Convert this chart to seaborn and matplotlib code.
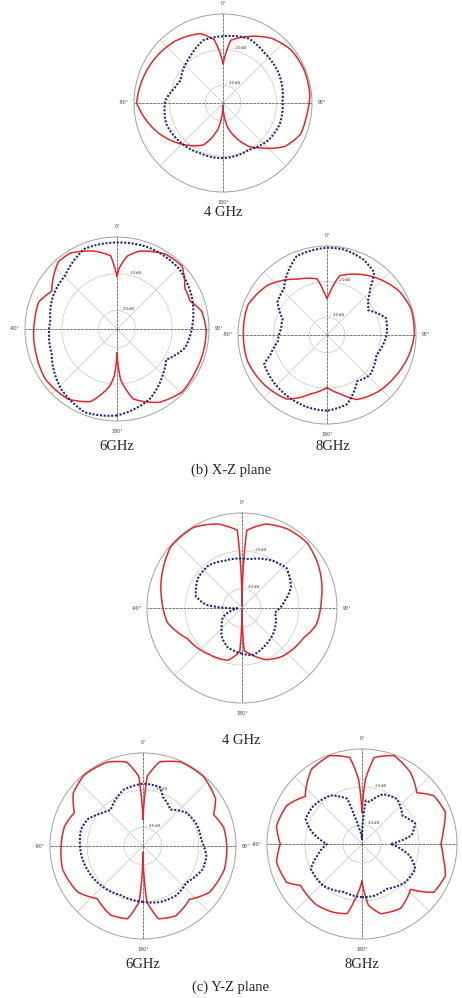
import numpy as np
import pandas as pd
import matplotlib
matplotlib.use('Agg')
import matplotlib.pyplot as plt
import seaborn as sns

# Angles in degrees (0 = top, clockwise), levels in dB (outer ring = 0 dB)
# ---- X-Z plane ----
xz4_red_ang = [-180, -169, -155, -137, -112, -90, -60, -38, -18, -8, -3, 0, 3, 7, 21, 37, 52, 67, 85, 98, 112, 125, 139, 149, 169, 180]
xz4_red_db = [-48.5, -35, -24, -18, -9, -1.5, -4, -6, -9, -14, -22.5, -28, -22.5, -14.5, -10, -4.5, -1.5, -0.8, -1, -2.5, -3, -7.5, -16.5, -21.5, -36, -48.5]
xz4_blue_ang = [-180, -156, -134, -110, -88, -73, -62, -35, -17, 0, 22, 40, 61, 88, 110, 129, 151, 180]
xz4_blue_db = [-19, -19, -17.5, -16, -17.5, -21.5, -23, -18, -13, -12.5, -11, -13.5, -14.5, -16.5, -16, -17, -20, -19]

xz6_red_ang = [-180, -177, -173, -160, -145, -125, -107, -84, -71, -60, -41, -32, -16, -5, -2, 0, 2, 8, 16, 33, 46, 59, 69, 78, 91, 106, 119, 134, 150, 167, 176, 180]
xz6_red_db = [-37, -25, -19, -8, -3.5, -2.5, -4, -5, -5, -9, -1.5, -1.5, -6, -10, -17, -21.5, -17, -10, -6, -1.5, -0.8, -7, -7.5, -3, -1.5, -1.5, -1.5, -0.8, -4, -11, -22.5, -37]
xz6_blue_ang = [-180, -159, -137, -111, -83, -64, -44, -22, 0, 22, 46, 65, 84, 105, 122, 136, 155, 180]
xz6_blue_db = [-3, -1.5, -5.5, -12, -13.5, -11, -9.5, -3, -3, -2.5, -3, -5.5, -8.5, -11.5, -18.5, -14.5, -8, -3]

xz8_red_ang = [-180, -164, -148, -128, -108, -90, -69, -50, -28, -10, -4, 0, 4, 12, 31, 43, 59, 73, 90, 103, 120, 137, 155, 167, 180]
xz8_red_db = [-20.5, -15.5, -7.5, -5, -3, -3, -2.5, -6.5, -14.5, -18, -26, -29.5, -26, -16, -10.5, -7, -2.5, -0.5, -1, -2.5, -5, -7, -10, -16, -20.5]
xz8_blue_ang = [-180, -165, -140, -115, -109, -98, -82, -70, -56, -43, -32, -21, -7, 0, 11, 26, 37, 43, 50, 59, 74, 90, 112, 133, 147, 164, 180]
xz8_blue_db = [-7.5, -8, -9.5, -11, -16.5, -22, -24, -23.5, -16.5, -14.5, -8.5, -2.5, -1.5, -1, -1, -3, -6, -14.5, -20, -23, -15.5, -16.5, -20, -17, -19, -9.5, -7.5]

# ---- Y-Z plane ----
yz4_red_ang = [-180, -177, -165, -144, -119, -101, -84, -63, -49, -31, -16, -3.5, 0, 3.5, 16, 30, 45, 61, 84, 103, 116, 141, 155, 170, 177, 180]
yz4_red_db = [-49, -27, -21.5, -20, -17, -10, -7.5, -3.5, -0.5, -0.5, -4, -9, -49, -9, -4, -2, -1.5, -4, -8, -10, -14, -17, -20, -25.5, -27.5, -49]
yz4_blue_ang = [-180, -160, -143, -135, -125, -115, -105, -95, -90, -85, -76, -56, -38, -20, 0, 9, 32, 48, 67, 80, 98, 127, 147, 167, 180]
yz4_blue_db = [-26, -28, -32, -35, -37, -39, -44, -47.5, -42.5, -31, -25, -22, -21.5, -23.5, -24, -24, -20.5, -18.5, -22, -27, -32.5, -29, -27, -24.5, -26]

yz6_red_ang = [-180, -176, -168, -155, -139, -125, -106, -90, -76, -64, -53, -40, -23, -11, -3.5, 0, 3.5, 11, 24, 41, 57, 66, 77, 90, 106, 125, 139, 155, 168, 176, 180]
yz6_red_db = [-46.5, -20, -10, -9, -12.5, -7, -5, -6, -6.5, -9, -3, -0.5, -1, -4, -12.5, -36, -12.5, -4, -0.5, -0.5, -3.5, -8.5, -5.5, -5, -4.5, -6.5, -12, -8.5, -10, -20, -46.5]
yz6_blue_ang = [-180, -156, -133, -120, -99, -75, -64, -52, -42, -19, -6, 0, 16, 22, 37, 53, 67, 84, 99, 111, 130, 146, 163, 180]
yz6_blue_db = [-20, -21, -19, -18, -16.5, -15.5, -17, -21.5, -24, -18, -17, -16.5, -17, -21.5, -25.5, -20.5, -19, -18.5, -15.5, -15.5, -19.5, -18, -18.5, -20]

yz8_red_ang = [-180, -173, -168, -157, -144, -124, -117, -102, -90, -78, -63, -50, -34, -20, -8, -3, 0, 3, 8, 20, 34, 47, 56, 69, 80, 90, 100, 111, 124, 133, 149, 165, 174, 180]
yz8_red_db = [-30.5, -21, -12.5, -11, -10, -11, -5.5, -4, -7, -4, -5.5, -11, -2.5, -0.5, -4, -16, -33.5, -16, -4, -0.5, -4.5, -10.5, -4.5, -3, -6.5, -8.5, -6.5, -3, -4.5, -15, -10.5, -12, -17.5, -30.5]
yz8_blue_ang = [-180, -159, -137, -116, -105, -90, -74, -66, -52, -33, -18, -15, -10, 0, 5, 10, 23, 38, 55, 69, 80, 90, 104, 115, 131, 151, 167, 180]
yz8_blue_db = [-22, -23, -20, -20, -25.5, -31.5, -21.5, -17.5, -17.5, -19.5, -25, -35, -42, -47.5, -27, -27.5, -21.5, -20, -24, -20, -23.5, -35, -24, -19, -19.5, -23, -22, -22]

captions = ['4 GHz', '6GHz', '8GHz', '4 GHz', '6GHz', '8GHz']
plane_titles = ['(b) X-Z plane', '(c) Y-Z plane']

RED = '#e2262b'
BLUE = '#1d2a82'
W, H = 462, 998

sns.set_style('white')
plt.rcParams['font.family'] = ['DejaVu Sans']
fig = plt.figure(figsize=(W / 100, H / 100), dpi=100)


def panel(cx, cy, r, red_ang, red_db, blue_ang, blue_db):
    ax = fig.add_axes([(cx - r) / W, 1 - (cy + r) / H, 2 * r / W, 2 * r / H], projection='polar')
    ax.set_theta_zero_location('N')
    ax.set_theta_direction(-1)

    red = pd.DataFrame({'theta': np.deg2rad(red_ang), 'db': red_db})
    blue = pd.DataFrame({'theta': np.deg2rad(blue_ang), 'db': blue_db})
    sns.lineplot(data=red, x='theta', y='db', ax=ax, sort=False, estimator=None,
                 color=RED, lw=1.1, zorder=4)
    sns.lineplot(data=blue, x='theta', y='db', ax=ax, sort=False, estimator=None,
                 color=BLUE, lw=1.5, dashes=(1.0, 0.8), zorder=5)
    # draw segments as arcs in polar space
    for ln in ax.lines:
        ln._path._interpolation_steps = 24

    ax.set_ylim(-50, 0)
    ax.set_yticks([-40, -20])
    ax.set_yticklabels(['- 40dB', '- 20dB'], fontsize=3.2, color='#555555')
    ax.set_rlabel_position(10)
    ax.set_xticks(np.deg2rad(np.arange(0, 360, 45)))
    ax.set_xticklabels(['0°', '', '90°', '', '180°', '', '-90°', ''], fontsize=3.4, color='#444444')
    ax.set_xticks(np.deg2rad(np.arange(0, 360, 5)), minor=True)
    ax.tick_params(axis='x', which='both', direction='in', length=2, width=0.4,
                   color='#9a9a9a', pad=0.5)
    ax.grid(True, color='#cfcfcf', linewidth=0.6)
    ax.spines['polar'].set_color('#a0a0a0')
    ax.spines['polar'].set_linewidth(0.7)
    for a in (0, 90, 180, 270):
        ax.axvline(np.deg2rad(a), color='#6a6a6a', lw=0.6, ls=(0, (3, 1.5)), zorder=2)
    ax.set_xlabel('')
    ax.set_ylabel('')
    return ax


panel(223, 103, 89, xz4_red_ang, xz4_red_db, xz4_blue_ang, xz4_blue_db)
panel(117, 329, 92, xz6_red_ang, xz6_red_db, xz6_blue_ang, xz6_blue_db)
panel(327, 335, 89, xz8_red_ang, xz8_red_db, xz8_blue_ang, xz8_blue_db)
panel(242, 608, 95, yz4_red_ang, yz4_red_db, yz4_blue_ang, yz4_blue_db)
panel(143, 846, 93, yz6_red_ang, yz6_red_db, yz6_blue_ang, yz6_blue_db)
panel(362, 844, 95, yz8_red_ang, yz8_red_db, yz8_blue_ang, yz8_blue_db)

cap_pos = [(223, 212), (117, 447), (333, 447), (241, 740), (143, 965), (362, 965)]
for (x, y), txt in zip(cap_pos, captions):
    fig.text(x / W, 1 - y / H, txt, ha='center', va='center',
             family='Liberation Serif', fontsize=10.5)
for (x, y), txt in zip([(231, 470), (231, 987)], plane_titles):
    fig.text(x / W, 1 - y / H, txt, ha='center', va='center',
             family='Liberation Serif', fontsize=10.5)

fig.savefig('out.png', dpi=100, facecolor='white')
